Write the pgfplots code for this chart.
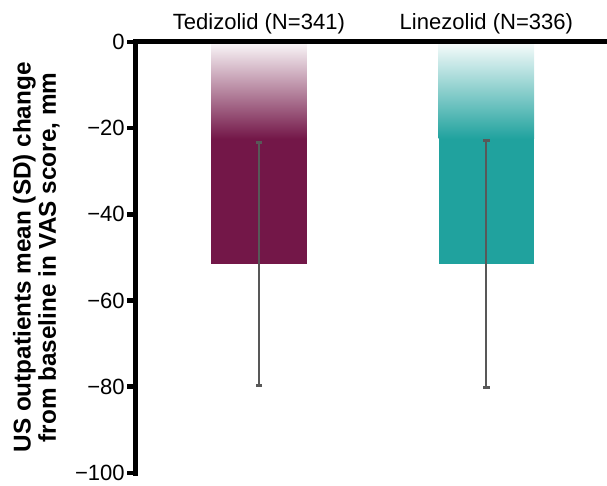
\documentclass[border=0pt]{standalone}
\usepackage{pgfplots}
\pgfplotsset{compat=1.18}
\usetikzlibrary{calc}
\usepackage{fontspec}
\setmainfont{Liberation Sans}
\definecolor{tedi}{RGB}{115,23,72}
\definecolor{linez}{RGB}{32,162,158}
\definecolor{errc}{RGB}{88,88,88}
\begin{document}
\begin{tikzpicture}
\begin{axis}[
  scale only axis,
  width=353.25pt, height=324.75pt,
  xmin=0.4573, xmax=2.5186,
  ymin=-100, ymax=0,
  axis x line*=top, axis y line*=left,
  axis line style={line width=4pt, line cap=rect},
  axis on top,
  xtick={1,2},
  xticklabels={Tedizolid (N=341), Linezolid (N=336)},
  x tick style={draw=none},
  ytick={-100,-80,-60,-40,-20,0},
  yticklabels={−100,−80,−60,−40,−20,0},
  y tick style={line width=3.4pt, black},
  tick align=outside,
  major tick length=6pt,
  ticklabel style={font=\fontsize{16.6}{19}\selectfont},
  xticklabel style={yshift=-3.8pt},
  yticklabel style={xshift=1.5pt},
  ylabel={US outpatients mean (SD) change\\from baseline in VAS score, mm},
  ylabel style={at={($(axis description cs:0,0.5)+(-74.6pt,0)$)}, anchor=center,
    align=center, font=\bfseries\fontsize{18.3}{19}\selectfont},
  clip=false,
]
\addplot[ybar, bar width=72pt, bar shift=0pt, draw=none, fill=tedi] coordinates {(1,-51.5)};
\addplot[ybar, bar width=72pt, bar shift=0pt, draw=none, fill=linez] coordinates {(2,-51.5)};
\addplot[ybar, bar width=72pt, bar shift=0pt, draw=none, top color=tedi!3!white, bottom color=tedi] coordinates {(1,-22.5)};
\addplot[ybar, bar width=72pt, bar shift=0pt, draw=none, top color=linez!3!white, bottom color=linez] coordinates {(2,-22.5)};
\addplot[draw=none, mark=none,
  error bars/.cd, y dir=both, y explicit,
  error bar style={draw=errc, line width=1.6pt},
  error mark options={draw=errc, line width=2.2pt, mark size=2.4pt, rotate=90}]
  coordinates {(1,-51.5) +- (0,28.2) (2,-51.5) +- (0,28.6)};
\path (axis cs:0.4573,-100) ++(-102pt,-5.25pt) coordinate (bbsw);
\path (axis cs:2.5186,0) ++(0pt,31.5pt) coordinate (bbne);
\end{axis}
\useasboundingbox (bbsw) rectangle (bbne);
\end{tikzpicture}
\end{document}
